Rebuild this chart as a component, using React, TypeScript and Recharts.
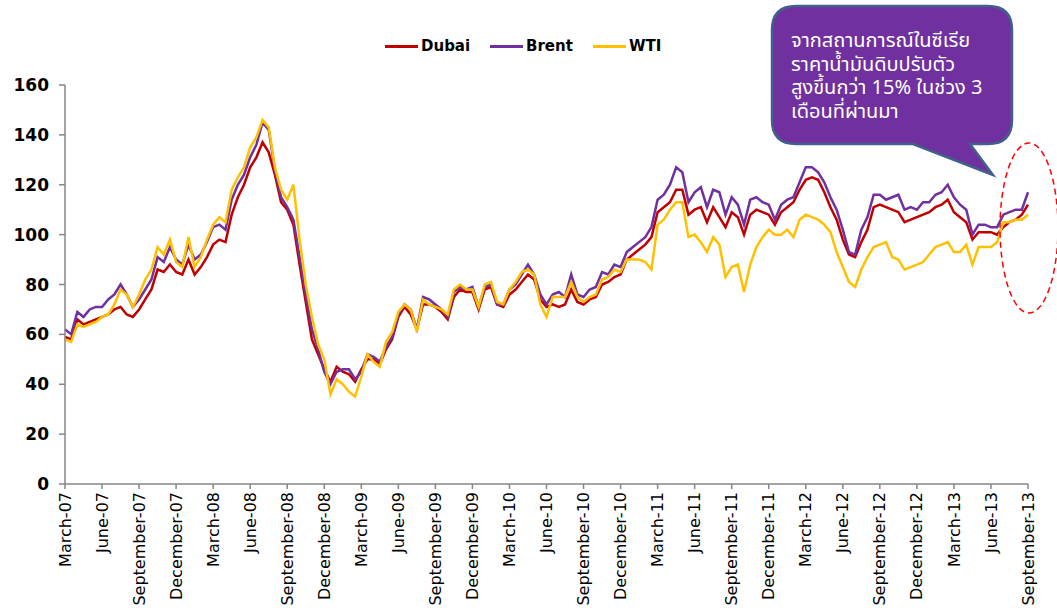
import React from 'react';
import { LineChart, Line, XAxis, YAxis } from 'recharts';

// quarter labels on the x axis (one every 3 months from March-07)
const tickLabels = [
  'March-07', 'June-07', 'September-07', 'December-07',
  'March-08', 'June-08', 'September-08', 'December-08',
  'March-09', 'June-09', 'September-09', 'December-09',
  'March-10', 'June-10', 'September-10', 'December-10',
  'March-11', 'June-11', 'September-11', 'December-11',
  'March-12', 'June-12', 'September-12', 'December-12',
  'March-13', 'June-13', 'September-13',
];

const yTicks = [0, 20, 40, 60, 80, 100, 120, 140, 160];

// callout text, one entry per line
const noteLines = [
  'จากสถานการณ์ในซีเรีย',
  'ราคาน้ำมันดิบปรับตัว',
  'สูงขึ้นกว่า 15% ในช่วง 3',
  'เดือนที่ผ่านมา',
];

// prices, USD/bbl, twice a month starting March 2007
const dubai = [
  59, 58, 66, 64, 65, 66, 67, 68, 70, 71, 68, 67, 70, 74, 78, 86, 85, 88, 85, 84,
  90, 84, 87, 91, 96, 98, 97, 108, 115, 120, 127, 131, 137, 133, 124, 113, 110, 104, 88, 73,
  58, 52, 46, 41, 47, 45, 44, 41, 46, 50, 50, 48, 54, 58, 67, 71, 68, 62, 72, 72,
  71, 69, 66, 75, 78, 77, 77, 70, 78, 79, 72, 71, 76, 78, 81, 84, 82, 74, 71, 72,
  71, 72, 78, 73, 72, 74, 75, 80, 81, 83, 84, 90, 92, 94, 96, 99, 109, 111, 113, 118,
  118, 108, 110, 111, 105, 111, 107, 103, 109, 107, 100, 108, 110, 109, 108, 104, 109, 111, 113, 118,
  122, 123, 122, 117, 111, 106, 98, 92, 91, 97, 102, 111, 112, 111, 110, 109, 105, 106, 107, 108,
  109, 111, 112, 114, 109, 107, 105, 98, 101, 101, 101, 100, 103, 105, 106, 108, 112,
];

const brent = [
  62, 60, 69, 67, 70, 71, 71, 74, 76, 80, 76, 71, 74, 78, 82, 91, 89, 95, 90, 88,
  96, 90, 92, 97, 103, 104, 102, 114, 120, 124, 131, 136, 145, 142, 126, 115, 111, 106, 91, 76,
  62, 54, 45, 40, 45, 46, 46, 42, 45, 52, 51, 49, 55, 59, 68, 72, 70, 62, 75, 74,
  72, 70, 67, 77, 79, 78, 79, 71, 79, 80, 72, 72, 78, 80, 84, 88, 84, 76, 72, 76,
  77, 75, 84, 76, 75, 78, 79, 85, 84, 88, 87, 93, 95, 97, 99, 103, 114, 116, 120, 127,
  125, 113, 117, 119, 111, 118, 117, 108, 115, 112, 104, 114, 115, 113, 112, 106, 112, 114, 115, 121,
  127, 127, 125, 121, 115, 110, 102, 93, 92, 102, 107, 116, 116, 114, 115, 116, 110, 111, 110, 113,
  113, 116, 117, 120, 115, 112, 110, 100, 104, 104, 103, 103, 108, 109, 110, 110, 117,
];

const wti = [
  58, 57, 64, 63, 64, 65, 67, 68, 72, 78, 76, 71, 76, 82, 86, 95, 92, 98, 89, 87,
  99, 87, 91, 98, 104, 107, 105, 118, 123, 127, 135, 139, 146, 143, 127, 118, 114, 120, 98, 80,
  67, 56, 50, 36, 42, 40, 37, 35, 43, 52, 49, 47, 57, 61, 69, 72, 70, 61, 74, 72,
  71, 70, 68, 78, 80, 78, 78, 71, 80, 81, 73, 72, 78, 81, 85, 86, 84, 72, 67, 75,
  75, 75, 81, 75, 73, 75, 76, 82, 83, 86, 85, 90, 90, 90, 89, 86, 104, 106, 110, 113,
  113, 99, 100, 97, 93, 99, 96, 83, 87, 88, 77, 88, 95, 99, 102, 100, 100, 102, 99, 106,
  108, 107, 106, 104, 101, 93, 87, 81, 79, 86, 91, 95, 96, 97, 91, 90, 86, 87, 88, 89,
  92, 95, 96, 97, 93, 93, 96, 88, 95, 95, 95, 97, 105, 105, 106, 106, 108,
];

const rows = dubai.map((d, i) => ({ m: i / 2, dubai: d, brent: brent[i], wti: wti[i] }));
const xTicks = tickLabels.map((_, i) => i * 3);

const AXIS = '#868686';
const FONT = "Tahoma, 'DejaVu Sans', sans-serif";
const THAI = "Tahoma, 'Noto Sans Thai', 'Noto Sans', 'DejaVu Sans', sans-serif";

const XTick = (props: any) => {
  const { x, y, payload } = props;
  const label = tickLabels[Math.round(payload.value / 3)];
  return (
    <text
      x={x}
      y={y}
      transform={`rotate(-90 ${x} ${y})`}
      textAnchor="end"
      dy="0.35em"
      fontSize={16}
      fontFamily={FONT}
      fill="#000"
    >
      {label}
    </text>
  );
};

const legendItems = [
  { name: 'Dubai', color: '#C00000', left: 385 },
  { name: 'Brent', color: '#7030A0', left: 490 },
  { name: 'WTI', color: '#FFC000', left: 593 },
];

const App: React.FC = () => {
  return (
    <div style={{ position: 'absolute', left: 0, top: 0, width: 1057, height: 610, background: '#fff' }}>
      <LineChart
        width={1057}
        height={610}
        data={rows}
        margin={{ top: 85, right: 29, bottom: 0, left: 0 }}
      >
        <XAxis
          dataKey="m"
          type="number"
          domain={[0, 78]}
          ticks={xTicks}
          interval={0}
          height={126}
          tick={<XTick />}
          tickSize={5}
          tickMargin={3}
          axisLine={{ stroke: AXIS, strokeWidth: 1.5 }}
          tickLine={{ stroke: AXIS, strokeWidth: 1.5 }}
        />
        <YAxis
          domain={[0, 160]}
          ticks={yTicks}
          width={65}
          tickSize={6}
          tickMargin={10}
          axisLine={{ stroke: AXIS, strokeWidth: 1.5 }}
          tickLine={{ stroke: AXIS, strokeWidth: 1.5 }}
          tick={{ fontSize: 17, fontWeight: 'bold', fill: '#000', fontFamily: FONT }}
        />
        <Line dataKey="dubai" stroke="#C00000" strokeWidth={2.5} dot={false} isAnimationActive={false} />
        <Line dataKey="brent" stroke="#7030A0" strokeWidth={2.5} dot={false} isAnimationActive={false} />
        <Line dataKey="wti" stroke="#FFC000" strokeWidth={2.5} dot={false} isAnimationActive={false} />
      </LineChart>

      {/* legend */}
      {legendItems.map((it) => (
        <div
          key={it.name}
          style={{
            position: 'absolute',
            left: it.left,
            top: 37,
            display: 'flex',
            alignItems: 'center',
            fontFamily: FONT,
            fontWeight: 'bold',
            fontSize: 15,
          }}
        >
          <span style={{ display: 'inline-block', width: 33, height: 3, background: it.color, marginRight: 3 }} />
          <span>{it.name}</span>
        </div>
      ))}

      {/* callout + highlight ellipse */}
      <svg width={1057} height={610} style={{ position: 'absolute', left: 0, top: 0, pointerEvents: 'none' }}>
        <ellipse
          cx={1029}
          cy={228}
          rx={29}
          ry={85}
          fill="none"
          stroke="#FF0000"
          strokeWidth={1.5}
          strokeDasharray="6 4"
        />
        <path
          d="M 796 6 H 988 Q 1012 6 1012 30 V 120 Q 1012 144 988 144 H 970 L 993 175 L 913 144 H 796 Q 772 144 772 120 V 30 Q 772 6 796 6 Z"
          fill="#7030A0"
          stroke="#41618A"
          strokeWidth={2.5}
        />
      </svg>
      <div
        style={{
          position: 'absolute',
          left: 791,
          top: 30,
          width: 215,
          color: '#fff',
          fontFamily: THAI,
          fontSize: 20,
          lineHeight: '23.7px',
          whiteSpace: 'pre',
        }}
      >
        {noteLines.join('\n')}
      </div>
    </div>
  );
};

export default App;
